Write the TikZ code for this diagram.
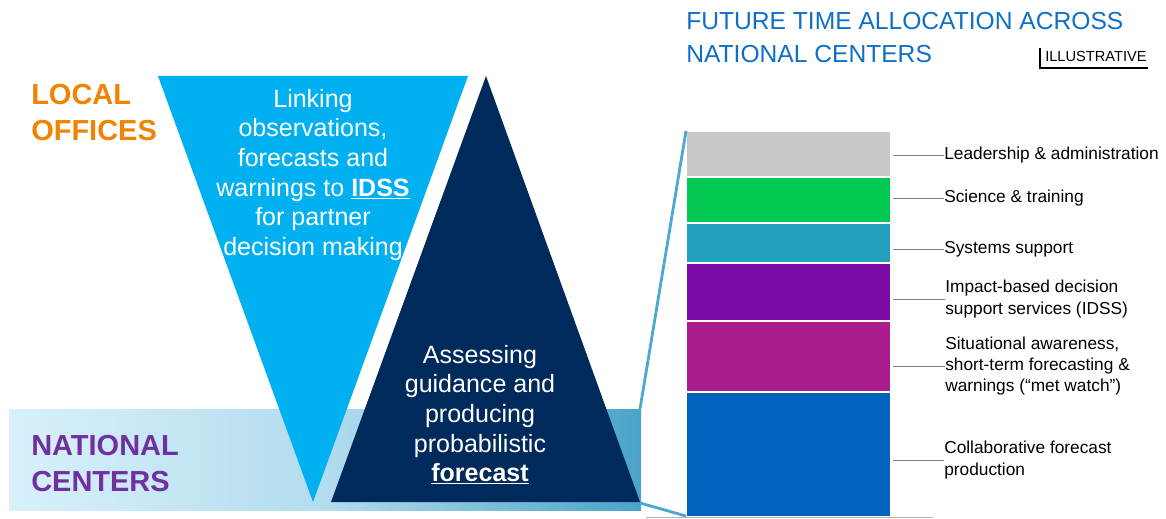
\documentclass[tikz,border=0pt]{standalone}
\usepackage{fontspec}
\setmainfont{Liberation Sans}

\definecolor{offorange}{HTML}{F08300}
\definecolor{natpurple}{HTML}{7030A0}
\definecolor{lightblue}{HTML}{00B0F0}
\definecolor{navy}{HTML}{002A5C}
\definecolor{titleblue}{HTML}{0F6FC6}
\definecolor{zoomblue}{HTML}{4AA8D2}
\definecolor{bandL}{HTML}{D8F1FB}
\definecolor{bandM}{HTML}{B3DCEE}
\definecolor{bandR}{HTML}{4AA3C8}
\definecolor{segGray}{HTML}{C8C8C8}
\definecolor{segGreen}{HTML}{00C850}
\definecolor{segTeal}{HTML}{21A0BE}
\definecolor{segPurple}{HTML}{7A0DA6}
\definecolor{segMagenta}{HTML}{A91E8C}
\definecolor{segBlue}{HTML}{0064BE}
\definecolor{leadgray}{HTML}{808080}
\definecolor{basegray}{HTML}{B4B4B4}

\begin{document}
\begin{tikzpicture}[
    x=0.025cm, y=-0.025cm,
    every node/.style={inner sep=0pt},
    zone/.style={font=\fontsize{20.6}{25.3}\selectfont\bfseries, align=left, anchor=north west},
    tritext/.style={font=\fontsize{17.8}{21}\selectfont, text=white, align=center, anchor=north},
    seglabel/.style={font=\fontsize{12.3}{15}\selectfont, align=left, anchor=west},
    seg/.style={draw=white, line width=0.8pt},
    leader/.style={draw=leadgray, line width=0.6pt},
    zoomline/.style={draw=zoomblue, line width=2pt}
]
\useasboundingbox (0,0) rectangle (1166,519);

% band and triangles
\shade[left color=bandL, right color=bandR, middle color=bandM] (9,409) rectangle (641,510);
\coordinate (bandNE) at (640,409);
\coordinate (bandSE) at (640,503);

\fill[lightblue] (158,76) -- (468,76) -- (313,502) -- cycle;
\fill[navy] (486,76) -- (640,502) -- (331,502) -- cycle;

\node (idss)     [tritext] at (313,89)  {Linking\\observations,\\forecasts and\\warnings to \underline{\textbf{IDSS}}\\for partner\\decision making};
\node (fcst)     [tritext] at (480,345) {Assessing\\guidance and\\producing\\probabilistic\\\underline{\textbf{forecast}}};

\node (local)    [zone, text=offorange] at (31,84)  {LOCAL\\OFFICES};
\node (national) [zone, text=natpurple] at (31,435) {NATIONAL\\CENTERS};

% title
\node (title) [anchor=north west, align=left, text=titleblue, font=\fontsize{17.5}{22.8}\selectfont] at (686,12.5) {FUTURE TIME ALLOCATION ACROSS\\NATIONAL CENTERS};
\node (illus) [anchor=base west, font=\fontsize{10.4}{12}\selectfont] at (1045,62) {ILLUSTRATIVE};
\draw[line width=0.9pt] ([shift={(-5,-4)}]illus.north west) |- ([shift={(1,6)}]illus.base east);

% stacked bar
\filldraw[seg, fill=segGray]    (686,131) rectangle (891,177);
\filldraw[seg, fill=segGreen]   (686,177) rectangle (891,223);
\filldraw[seg, fill=segTeal]    (686,223) rectangle (891,263);
\filldraw[seg, fill=segPurple]  (686,263) rectangle (891,321);
\filldraw[seg, fill=segMagenta] (686,321) rectangle (891,392);
\filldraw[seg, fill=segBlue]    (686,392) rectangle (891,517);
\coordinate (barNW) at (686,131);
\coordinate (barSW) at (686,516);
\coordinate (barE)  at (893,0);
\draw[draw=basegray, line width=1.2pt] (646,517.5) -- (933,517.5);

\node (lead)   [seglabel] at (944,155) {Leadership \& administration};
\node (sci)    [seglabel] at (944,198) {Science \& training};
\node (sys)    [seglabel] at (944,249) {Systems support};
\node (ibds)   [seglabel] at (945,299) {Impact-based decision\\support services (IDSS)};
\node (metw)   [seglabel] at (945,366) {Situational awareness,\\short-term forecasting \&\\warnings (“met watch”)};
\node (collab) [seglabel] at (944,460) {Collaborative forecast\\production};

% Edges
\draw[zoomline] (bandNE) -- (barNW);
\draw[zoomline] (bandSE) -- (barSW);

\draw[leader] (barE |- lead.west)   -- (lead.west);
\draw[leader] (barE |- sci.west)    -- (sci.west);
\draw[leader] (barE |- sys.west)    -- (sys.west);
\draw[leader] (barE |- ibds.west)   -- (ibds.west);
\draw[leader] (barE |- metw.west)   -- (metw.west);
\draw[leader] (barE |- collab.west) -- (collab.west);

\end{tikzpicture}
\end{document}
